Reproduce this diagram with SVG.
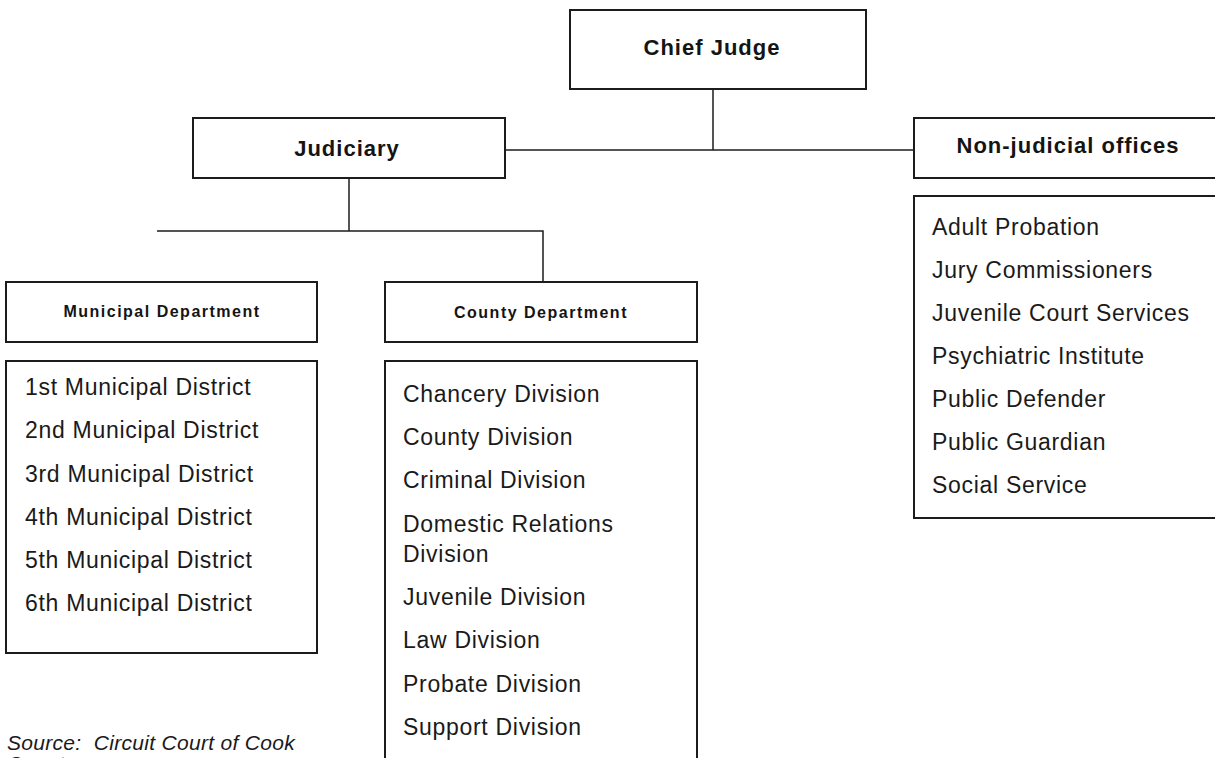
<svg xmlns="http://www.w3.org/2000/svg" width="1215" height="758" viewBox="0 0 1215 758">
  <style>
    .box { fill: #ffffff; stroke: #1c1c1c; stroke-width: 2; }
    .wire { fill: none; stroke: #1c1c1c; stroke-width: 1.5; }
    .head { font-family: "Liberation Sans", Arial, sans-serif; font-weight: bold; font-size: 22px; letter-spacing: 1px; fill: #141414; text-anchor: middle; }
    .dept { font-family: "Liberation Sans", Arial, sans-serif; font-weight: bold; font-size: 16px; letter-spacing: 1.5px; fill: #141414; text-anchor: middle; }
    .item { font-family: "Liberation Sans", Arial, sans-serif; font-size: 23px; letter-spacing: 0.7px; fill: #1a1a1a; }
    .note { font-family: "Liberation Sans", Arial, sans-serif; font-style: italic; font-size: 21px; letter-spacing: 0.3px; fill: #1a1a1a; white-space: pre; }
  </style>
  <rect width="1215" height="758" fill="#ffffff"/>

  <!-- connectors -->
  <g id="connectors">
    <path class="wire" d="M713 89 V150"/>
    <path class="wire" d="M505 150 H914"/>
    <path class="wire" d="M349 178 V231"/>
    <path class="wire" d="M157 231 H543 V282"/>
  </g>

  <g id="chief-judge">
    <rect class="box" x="570" y="10" width="296" height="79"/>
    <text class="head" x="712" y="55">Chief Judge</text>
  </g>

  <g id="judiciary">
    <rect class="box" x="193" y="118" width="312" height="60"/>
    <text class="head" x="347" y="156">Judiciary</text>
  </g>

  <g id="non-judicial">
    <rect class="box" x="914" y="118" width="320" height="60"/>
    <text class="head" x="1068" y="153">Non-judicial offices</text>
  </g>

  <g id="non-judicial-list">
    <rect class="box" x="914" y="196" width="320" height="322"/>
    <text class="item" x="932" y="235">Adult Probation</text>
    <text class="item" x="932" y="278">Jury Commissioners</text>
    <text class="item" x="932" y="321">Juvenile Court Services</text>
    <text class="item" x="932" y="364">Psychiatric Institute</text>
    <text class="item" x="932" y="407">Public Defender</text>
    <text class="item" x="932" y="450">Public Guardian</text>
    <text class="item" x="932" y="493">Social Service</text>
  </g>

  <g id="municipal-department">
    <rect class="box" x="6" y="282" width="311" height="60"/>
    <text class="dept" x="162" y="317">Municipal Department</text>
  </g>

  <g id="municipal-districts">
    <rect class="box" x="6" y="361" width="311" height="292"/>
    <text class="item" x="25" y="395">1st Municipal District</text>
    <text class="item" x="25" y="438">2nd Municipal District</text>
    <text class="item" x="25" y="482">3rd Municipal District</text>
    <text class="item" x="25" y="525">4th Municipal District</text>
    <text class="item" x="25" y="568">5th Municipal District</text>
    <text class="item" x="25" y="611">6th Municipal District</text>
  </g>

  <g id="county-department">
    <rect class="box" x="385" y="282" width="312" height="60"/>
    <text class="dept" x="541" y="318">County Department</text>
  </g>

  <g id="county-divisions">
    <rect class="box" x="385" y="361" width="312" height="420"/>
    <text class="item" x="403" y="402">Chancery Division</text>
    <text class="item" x="403" y="445">County Division</text>
    <text class="item" x="403" y="488">Criminal Division</text>
    <text class="item" x="403" y="532">Domestic Relations</text>
    <text class="item" x="403" y="562">Division</text>
    <text class="item" x="403" y="605">Juvenile Division</text>
    <text class="item" x="403" y="648">Law Division</text>
    <text class="item" x="403" y="692">Probate Division</text>
    <text class="item" x="403" y="735">Support Division</text>
  </g>

  <g id="source-note">
    <text class="note" x="7" y="750" xml:space="preserve">Source:  Circuit Court of Cook</text>
    <text class="note" x="7" y="771">County</text>
  </g>
</svg>
